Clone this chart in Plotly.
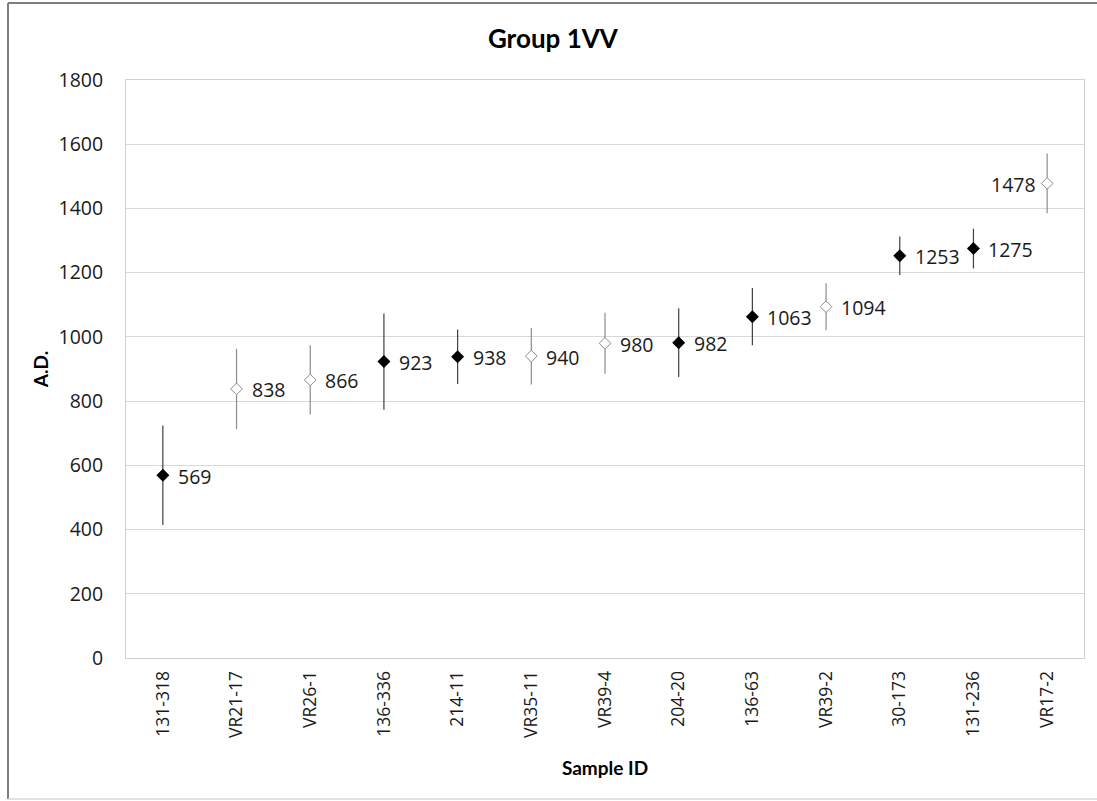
import plotly.graph_objects as go

# Sample IDs and calibrated dates (A.D.) with their uncertainty ranges
sample_ids = ["131-318", "VR21-17", "VR26-1", "136-336", "214-11", "VR35-11",
              "VR39-4", "204-20", "136-63", "VR39-2", "30-173", "131-236", "VR17-2"]
dates_ad = [569, 838, 866, 923, 938, 940, 980, 982, 1063, 1094, 1253, 1275, 1478]
errors = [155, 125, 108, 150, 85, 88, 95, 107, 89, 73, 60, 62, 93]
# True = solid marker, False = hollow marker
solid = [True, False, False, True, True, False, False, True, True, False, True, True, False]

y_ticks = [0, 200, 400, 600, 800, 1000, 1200, 1400, 1600, 1800]

LABEL_FONT = "Open Sans"
TITLE_FONT = "Lato"

fig = go.Figure()

def subset(flag):
    idx = [i for i, s in enumerate(solid) if s == flag]
    return ([sample_ids[i] for i in idx], [dates_ad[i] for i in idx], [errors[i] for i in idx])

xs, ys, es = subset(True)
fig.add_trace(go.Scatter(
    x=xs, y=ys, mode="markers",
    marker=dict(symbol="diamond", size=10, color="black", line=dict(width=0)),
    error_y=dict(type="data", array=es, visible=True, color="#404040", thickness=1.2, width=0),
    showlegend=False, hoverinfo="x+y",
))

xs, ys, es = subset(False)
fig.add_trace(go.Scatter(
    x=xs, y=ys, mode="markers",
    marker=dict(symbol="diamond", size=9, color="white", line=dict(width=1, color="#8c8c8c")),
    error_y=dict(type="data", array=es, visible=True, color="#8c8c8c", thickness=1.2, width=0),
    showlegend=False, hoverinfo="x+y",
))

# Value labels beside each marker
last = len(sample_ids) - 1
for i, (sid, val) in enumerate(zip(sample_ids, dates_ad)):
    on_left = i == last
    fig.add_annotation(
        x=sid, y=val, text=str(val), showarrow=False,
        xanchor="right" if on_left else "left",
        xshift=-9 if on_left else 13, yshift=-1,
        font=dict(family=LABEL_FONT, size=19.5, color="#1a1a1a"),
    )

fig.update_layout(
    width=1097, height=801,
    paper_bgcolor="white", plot_bgcolor="white",
    margin=dict(l=126, r=13, t=80, b=143),
    title=dict(text="<b>Group 1VV</b>", x=0.504, xanchor="center", y=0.951, yanchor="middle",
               font=dict(family=TITLE_FONT, size=26, color="black")),
    xaxis=dict(
        categoryorder="array", categoryarray=sample_ids,
        range=[-0.5, len(sample_ids) - 0.5],
        tickangle=-90, ticks="outside", ticklen=5, tickcolor="white",
        tickfont=dict(family=LABEL_FONT, size=17.5, color="#1a1a1a"),
        showgrid=False, showline=True, linecolor="#d0d0d0", linewidth=1, mirror=True,
        title=dict(text="<b>Sample ID</b>", font=dict(family=TITLE_FONT, size=19, color="black"),
                   standoff=24),
    ),
    yaxis=dict(
        range=[0, 1800], tickvals=y_ticks, ticktext=[str(v) for v in y_ticks],
        ticks="outside", ticklen=18, tickcolor="white",
        tickfont=dict(family=LABEL_FONT, size=19.5, color="#1a1a1a"),
        showgrid=True, gridcolor="#d9d9d9", gridwidth=1, zeroline=False,
        showline=True, linecolor="#d0d0d0", linewidth=1, mirror=True,
        title=dict(text="<b>A.D.</b>", font=dict(family=TITLE_FONT, size=19, color="black"),
                   standoff=4),
    ),
)

# Chart frame: darker top/left edges, lighter bottom edge
PW, PH = 958, 578
def px_x(p):
    return (p - 126) / PW

def px_y(p):
    return (658 - p) / PH

fig.add_shape(type="line", xref="paper", yref="paper",
              x0=px_x(8), x1=px_x(1100), y0=px_y(3), y1=px_y(3),
              line=dict(color="#7f7f7f", width=2), layer="below")
fig.add_shape(type="line", xref="paper", yref="paper",
              x0=px_x(8), x1=px_x(8), y0=px_y(3), y1=px_y(799),
              line=dict(color="#7f7f7f", width=2), layer="below")
fig.add_shape(type="line", xref="paper", yref="paper",
              x0=px_x(8), x1=px_x(1100), y0=px_y(799), y1=px_y(799),
              line=dict(color="#d9d9d9", width=1.5), layer="below")

fig.write_html("out.html")
